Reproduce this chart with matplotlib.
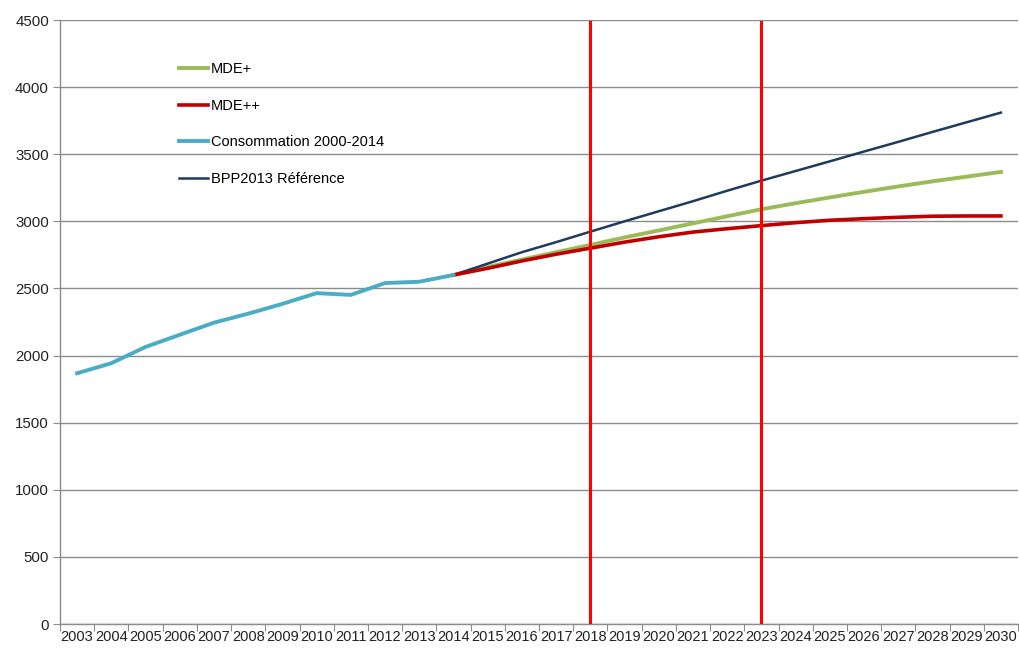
import numpy as np
import matplotlib
matplotlib.use("Agg")
import matplotlib.pyplot as plt
from matplotlib.ticker import FixedLocator

plt.rcParams['font.family'] = ['Liberation Sans', 'DejaVu Sans']

years = list(range(2003, 2031))

hist_years = list(range(2003, 2015))
consommation = [1868, 1943, 2064, 2155, 2245, 2312, 2385, 2465, 2452, 2540, 2550, 2600]

proj_years = list(range(2014, 2031))
bpp_ref = [2600, 2685, 2770, 2845, 2923, 3000, 3075, 3150, 3228, 3303,
           3375, 3447, 3520, 3592, 3666, 3738, 3810]
mde_plus = [2600, 2660, 2715, 2770, 2824, 2880, 2932, 2985, 3038, 3090,
            3135, 3178, 3220, 3260, 3298, 3333, 3368]
mde_pp = [2600, 2650, 2705, 2755, 2800, 2845, 2885, 2920, 2945, 2968,
          2990, 3008, 3020, 3030, 3038, 3040, 3040]

markers_years = [2018, 2023]

def pos(ys):
    return [years.index(y) for y in ys]

fig = plt.figure(figsize=(10.19, 6.53), dpi=100)
ax = fig.add_axes([60 / 1019, 1 - 624 / 653, 958 / 1019, 604 / 653])

l_mp, = ax.plot(pos(proj_years), mde_plus, color="#9BBB59", lw=2.8, label="MDE+", zorder=3)
l_mpp, = ax.plot(pos(proj_years), mde_pp, color="#C00000", lw=2.6, label="MDE++", zorder=4)
l_c, = ax.plot(pos(hist_years), consommation, color="#4BACC6", lw=2.8,
               label="Consommation 2000-2014", zorder=5)
l_b, = ax.plot(pos(proj_years), bpp_ref, color="#1F3A5F", lw=1.8,
               label="BPP2013 Référence", zorder=3)

for y in markers_years:
    ax.axvline(years.index(y), ymin=0, ymax=0.997, color="#FF0000", lw=2.2, zorder=6)

ax.set_xlim(-0.5, len(years) - 0.5)
ax.set_ylim(0, 4500)
ax.set_yticks(np.arange(0, 4501, 500))
ax.yaxis.grid(True, color="#8C8C8C", lw=1.0)
ax.set_axisbelow(True)

ax.xaxis.set_major_locator(FixedLocator(np.arange(-0.5, len(years), 1.0)))
ax.xaxis.set_minor_locator(FixedLocator(np.arange(0, len(years))))
ax.set_xticklabels([], minor=False)
ax.set_xticklabels([str(y) for y in years], minor=True)
ax.tick_params(axis="x", which="major", length=5, color="#8C8C8C", direction="out")
ax.tick_params(axis="x", which="minor", length=0, pad=4, labelsize=10.5, labelcolor="#222222")
ax.tick_params(axis="y", length=5, color="#8C8C8C", labelsize=10.8, labelcolor="#222222", pad=3)

for s in ["top", "right"]:
    ax.spines[s].set_visible(False)
for s in ["left", "bottom"]:
    ax.spines[s].set_color("#8C8C8C")
    ax.spines[s].set_linewidth(1.0)

ax.legend(handles=[l_mp, l_mpp, l_c, l_b], loc="upper left",
          bbox_to_anchor=(166 / 1019, 1 - 49 / 653), bbox_transform=fig.transFigure,
          frameon=False, fontsize=10.5, handlelength=2.0, handletextpad=0.2,
          labelspacing=1.55, borderpad=0.4)

fig.savefig("out.png", dpi=100)
